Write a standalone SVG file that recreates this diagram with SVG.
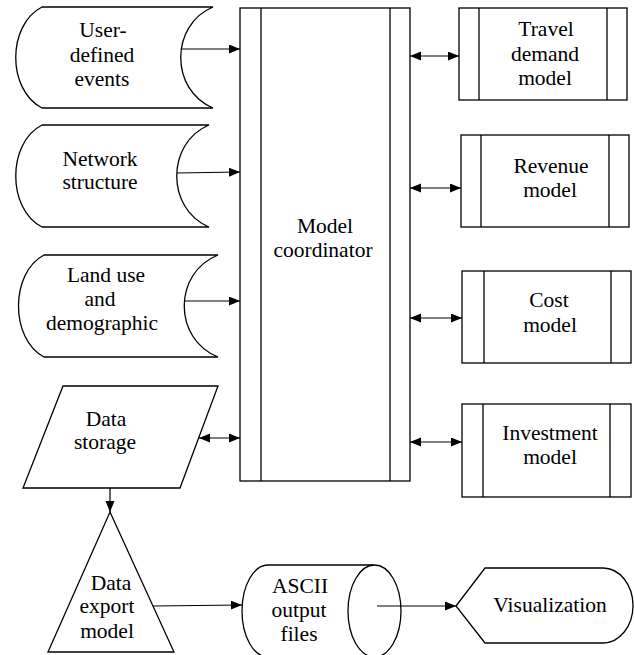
<svg xmlns="http://www.w3.org/2000/svg" width="634" height="655" viewBox="0 0 634 655">
  <style>
    .shape { fill: #fff; stroke: #000; stroke-width: 1.3; }
    .div { stroke: #000; stroke-width: 1.3; fill: none; }
    .edge { stroke: #000; stroke-width: 1.2; fill: none; marker-end: url(#head); }
    .both { marker-start: url(#head); }
    text { font-family: "Liberation Serif", "DejaVu Serif", serif; font-size: 21.5px; fill: #000; text-anchor: middle; }
  </style>
  <defs>
    <marker id="head" markerUnits="userSpaceOnUse" markerWidth="12" markerHeight="10" refX="11" refY="4.5" orient="auto-start-reverse">
      <path d="M0,0 L11,4.5 L0,9 Z" fill="#000"/>
    </marker>
  </defs>
  <rect width="634" height="655" fill="#fff"/>

  <!-- stored-data inputs -->
  <g id="user-events">
    <path class="shape" d="M213,7 H42 C7,25 7,90 42,108 H213 C170,90 170,25 213,7 Z"/>
    <text x="103" y="37">User-</text>
    <text x="102" y="62">defined</text>
    <text x="102" y="86">events</text>
  </g>
  <g id="network-structure">
    <path class="shape" d="M209,125 H42 C7,143 7,209 42,227 H209 C166,209 166,143 209,125 Z"/>
    <text x="100" y="166">Network</text>
    <text x="100" y="189">structure</text>
  </g>
  <g id="land-use">
    <path class="shape" d="M218,255 H44 C10,273 10,339 44,357 H218 C173,339 173,273 218,255 Z"/>
    <text x="106" y="282">Land use</text>
    <text x="100" y="306">and</text>
    <text x="102" y="330">demographic</text>
  </g>
  <g id="data-storage">
    <polygon class="shape" points="63,386 218,386 180,488 23,488"/>
    <text x="106" y="426">Data</text>
    <text x="105" y="449">storage</text>
  </g>

  <!-- central coordinator -->
  <g id="model-coordinator">
    <rect class="shape" x="240" y="8" width="170" height="473"/>
    <line class="div" x1="261" y1="8" x2="261" y2="481"/>
    <line class="div" x1="390" y1="8" x2="390" y2="481"/>
    <text x="325" y="233">Model</text>
    <text x="323" y="257">coordinator</text>
  </g>

  <!-- predefined sub-models -->
  <g id="travel-demand">
    <rect class="shape" x="459" y="8" width="168" height="92"/>
    <line class="div" x1="479" y1="8" x2="479" y2="100"/>
    <line class="div" x1="607" y1="8" x2="607" y2="100"/>
    <text x="546" y="36">Travel</text>
    <text x="545" y="61">demand</text>
    <text x="545" y="85">model</text>
  </g>
  <g id="revenue">
    <rect class="shape" x="461" y="135" width="168" height="92"/>
    <line class="div" x1="481" y1="135" x2="481" y2="227"/>
    <line class="div" x1="609" y1="135" x2="609" y2="227"/>
    <text x="551" y="173">Revenue</text>
    <text x="550" y="197">model</text>
  </g>
  <g id="cost">
    <rect class="shape" x="462" y="271" width="169" height="92"/>
    <line class="div" x1="484" y1="271" x2="484" y2="363"/>
    <line class="div" x1="611" y1="271" x2="611" y2="363"/>
    <text x="549" y="307">Cost</text>
    <text x="550" y="332">model</text>
  </g>
  <g id="investment">
    <rect class="shape" x="462" y="404" width="169" height="93"/>
    <line class="div" x1="483" y1="404" x2="483" y2="497"/>
    <line class="div" x1="610" y1="404" x2="610" y2="497"/>
    <text x="550" y="440">Investment</text>
    <text x="550" y="464">model</text>
  </g>

  <!-- export chain -->
  <g id="data-export">
    <polygon class="shape" points="110,512 174,652 48,652"/>
    <text x="111" y="590">Data</text>
    <text x="107" y="613">export</text>
    <text x="107" y="638">model</text>
  </g>
  <g id="ascii-files">
    <path class="shape" d="M374,565 H268 A26,46 0 0 0 268,657 H374"/>
    <ellipse class="shape" cx="374.5" cy="611" rx="26.5" ry="46"/>
    <text x="300" y="593">ASCII</text>
    <text x="299" y="617">output</text>
    <text x="299" y="641">files</text>
  </g>
  <g id="visualization">
    <path class="shape" d="M456,606 L485,568 H603 A30,37.5 0 0 1 603,643 H485 Z"/>
    <text x="550" y="612">Visualization</text>
  </g>

  <!-- connectors -->
  <g id="connectors">
    <line class="edge" x1="182" y1="49" x2="240" y2="49"/>
    <line class="edge" x1="177" y1="173" x2="240" y2="172"/>
    <line class="edge" x1="184" y1="301" x2="240" y2="301"/>
    <line class="edge both" x1="199" y1="438" x2="240" y2="438"/>
    <line class="edge both" x1="410" y1="56" x2="459" y2="56"/>
    <line class="edge both" x1="410" y1="188" x2="461" y2="188"/>
    <line class="edge both" x1="410" y1="318" x2="462" y2="318"/>
    <line class="edge both" x1="410" y1="442" x2="462" y2="442"/>
    <line class="edge" x1="110" y1="488" x2="110" y2="512"/>
    <line class="edge" x1="153" y1="606" x2="242" y2="605"/>
    <line class="edge" x1="377" y1="606" x2="456" y2="606"/>
  </g>
</svg>
